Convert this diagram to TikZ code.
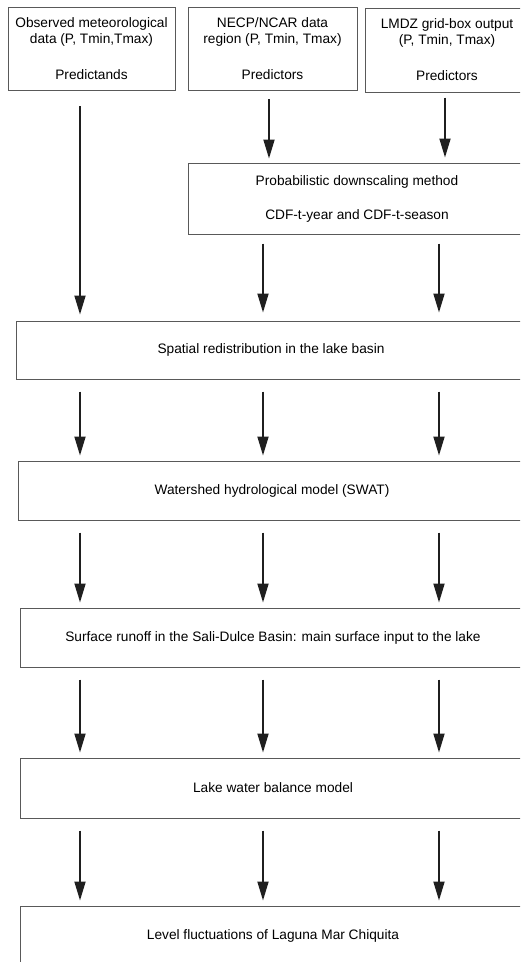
\documentclass[tikz,border=0pt]{standalone}
\usepackage{fontspec}
\setmainfont{Liberation Sans}
\usetikzlibrary{arrows.meta}

\begin{document}
\begin{tikzpicture}[x=1pt,y=-1pt,
        box/.style={draw=black!65,line width=1pt,inner sep=0pt,align=center,
            font=\fontsize{13.7}{16}\selectfont},
        flow/.style={-{Triangle[length=19pt,width=11pt]},line width=1.8pt,black!88,
            shorten <=12pt,shorten >=5pt}]
                \clip (0,0) rectangle (520,962);
                \coordinate (colA) at (80,0);
                \coordinate (colB) at (263,0);
                \coordinate (colC) at (439,0);
                \node[box,minimum width=167pt,minimum height=83pt] (obs) at (91.5,49)
                    {Observed meteorological\\data (P, Tmin,Tmax)\\[20pt]Predictands};
                \node[box,minimum width=169pt,minimum height=83pt] (ncep) at (272.5,49)
                    {NECP/NCAR data\\region (P, Tmin, Tmax)\\[20pt]Predictors};
                \node[box,minimum width=164pt,minimum height=84pt] (lmdz) at (447,50)
                    {LMDZ grid-box output\\(P, Tmin, Tmax)\\[20pt]Predictors};
                \node[box,minimum width=338pt,minimum height=71pt] (prob) at (357,198.5)
                    {Probabilistic downscaling method\\[18pt]CDF-t-year and CDF-t-season};
                \node[box,minimum width=510pt,minimum height=58pt] (spatial) at (271,350)
                    {Spatial redistribution in the lake basin};
                \node[box,minimum width=508pt,minimum height=59pt] (shed) at (272,490.5)
                    {Watershed hydrological model (SWAT)};
                \node[box,minimum width=506pt,minimum height=59pt] (runoff) at (273,637.5)
                    {Surface runoff in the Sali-Dulce Basin: main surface input to the lake};
                \node[box,minimum width=506pt,minimum height=60pt] (lake) at (273,788)
                    {Lake water balance model};
                \node[box,minimum width=506pt,minimum height=59pt] (level) at (273,935.5)
                    {Level fluctuations of Laguna Mar Chiquita};
                \draw[flow,shorten <=15pt,shorten >=6pt] (obs.south -| colA) -- (spatial.north -| colA);
                \draw[flow,shorten <=8pt,shorten >=4pt] ([xshift=6pt]ncep.south -| colB) -- ([xshift=6pt]prob.north -| colB);
                \draw[flow,shorten <=5pt,shorten >=5pt] ([xshift=6pt]lmdz.south -| colC) -- ([xshift=6pt]prob.north -| colC);
                \draw[flow,shorten <=9pt,shorten >=8pt] (prob.south -| colB) -- (spatial.north -| colB);
                \draw[flow,shorten <=9pt,shorten >=8pt] (prob.south -| colC) -- (spatial.north -| colC);
                \foreach \a/\b in {spatial/shed,shed/runoff,runoff/lake,lake/level}
                    \foreach \c in {colA,colB,colC}
                        \draw[flow] (\a.south -| \c) -- (\b.north -| \c);
            \end{tikzpicture}
\end{document}
